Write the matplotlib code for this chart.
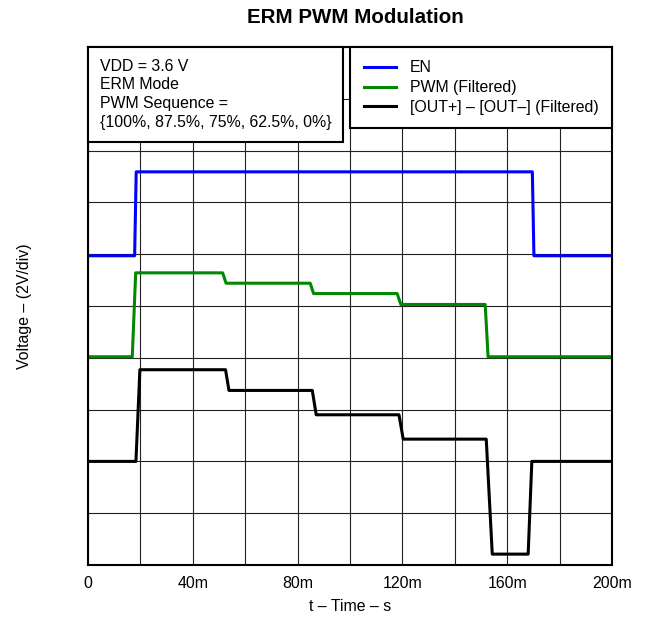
import matplotlib
matplotlib.use("Agg")
import matplotlib.pyplot as plt
from matplotlib.offsetbox import AnchoredText

plt.rcParams['font.family'] = ['Liberation Sans', 'DejaVu Sans']

# time in ms, levels in divisions (2 V/div, 0 = bottom of screen)
en_t = [0, 17.8, 18.4, 169.6, 170.2, 200]
en_v = [5.97, 5.97, 7.59, 7.59, 5.97, 5.97]

pwm_t = [0, 16.9, 18.2, 51.4, 52.7, 84.8, 86.1, 118.0, 119.4, 151.6, 152.7, 200]
pwm_v = [4.02, 4.02, 5.64, 5.64, 5.44, 5.44, 5.24, 5.24, 5.03, 5.03, 4.02, 4.02]

out_t = [0, 18.3, 19.8, 52.5, 53.8, 85.6, 87.1, 118.7, 120.3, 152.0, 154.3, 168.0, 169.4, 200]
out_v = [2.0, 2.0, 3.77, 3.77, 3.37, 3.37, 2.90, 2.90, 2.43, 2.43, 0.21, 0.21, 2.0, 2.0]

xticks = [0, 40, 80, 120, 160, 200]
xtick_labels = ['0', '40m', '80m', '120m', '160m', '200m']

fs = 11.4

fig = plt.figure(figsize=(6.47, 6.2), dpi=100)
ax = fig.add_axes([88/647, 1 - 565/620, 524/647, 518/620])

ax.plot(en_t, en_v, color='#0000ff', lw=2.2, label='EN')
ax.plot(pwm_t, pwm_v, color='#008800', lw=2.2, label='PWM (Filtered)')
ax.plot(out_t, out_v, color='black', lw=2.2, label='[OUT+] – [OUT–] (Filtered)')

ax.set_xlim(0, 200)
ax.set_ylim(0, 10)
ax.set_xticks(xticks, xtick_labels)
ax.set_xticks(range(0, 201, 20), minor=True)
ax.set_yticks(range(0, 11))
ax.set_yticklabels([])
ax.tick_params(which='both', length=0, labelsize=fs, pad=8)
ax.grid(True, which='both', color='#222222', lw=0.8)
for s in ax.spines.values():
    s.set_linewidth(1.5)

ax.set_xlabel('t – Time – s', fontsize=fs, labelpad=6)
ax.set_ylabel('Voltage – (2V/div)', fontsize=fs)
ax.yaxis.set_label_coords(-56/524, 0.5)
ax.set_title('ERM PWM Modulation', fontsize=14.8, fontweight='bold', pad=17, x=0.51)

box = AnchoredText('VDD = 3.6 V\nERM Mode\nPWM Sequence =\n{100%, 87.5%, 75%, 62.5%, 0%}',
                   loc='upper left', borderpad=0, pad=0.75, frameon=True,
                   prop=dict(fontsize=fs, linespacing=1.3))
box.patch.set_boxstyle('square,pad=0')
box.patch.set_edgecolor('black')
box.patch.set_linewidth(1.5)
ax.add_artist(box)

leg = ax.legend(loc='upper right', borderaxespad=0, fancybox=False, framealpha=1,
                edgecolor='black', fontsize=fs, handlelength=2.0, handletextpad=0.9,
                labelspacing=0.3, borderpad=0.85)
leg.get_frame().set_linewidth(1.5)

fig.savefig('out.png', dpi=100)
